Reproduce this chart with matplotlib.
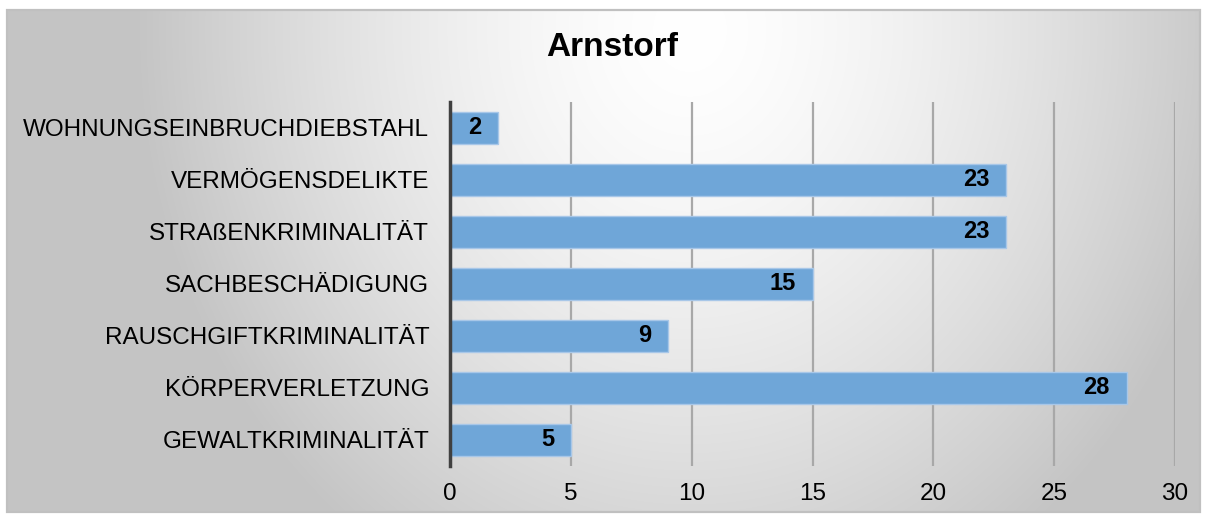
import matplotlib
matplotlib.use("Agg")
import matplotlib.pyplot as plt
import numpy as np
from matplotlib.patches import Rectangle

plt.rcParams["font.family"] = ["Liberation Sans", "DejaVu Sans"]

categories = [
    "GEWALTKRIMINALITÄT",
    "KÖRPERVERLETZUNG",
    "RAUSCHGIFTKRIMINALITÄT",
    "SACHBESCHÄDIGUNG",
    "STRAßENKRIMINALITÄT",
    "VERMÖGENSDELIKTE",
    "WOHNUNGSEINBRUCHDIEBSTAHL",
]
values = [5, 28, 9, 15, 23, 23, 2]
x_ticks = [0, 5, 10, 15, 20, 25, 30]
title = "Arnstorf"

W, H = 1206, 515
fig = plt.figure(figsize=(W / 100, H / 100), dpi=100)

# radial gradient background inside the chart frame (white at top centre)
bg = fig.add_axes([0, 0, 1, 1], zorder=-10)
bg.set_xlim(0, W)
bg.set_ylim(H, 0)
bg.axis("off")
yy, xx = np.mgrid[0:H, 0:W]
d = np.clip(np.sqrt(((xx - 690) / 560.0) ** 2 + ((yy - 20) / 650.0) ** 2), 0, 1)
shade = 1.0 - 0.23 * d ** 1.5
img = np.dstack([shade, shade, shade])
bg.imshow(img, extent=(7, 1200, 512, 10), aspect="auto", interpolation="bilinear")
bg.add_patch(Rectangle((7, 10), 1193, 502, fill=False, edgecolor="#c0c0c0", linewidth=1.6))

ax = fig.add_axes([450 / W, 1 - 466 / H, 725 / W, 364 / H])
ax.patch.set_alpha(0)
y = np.arange(len(categories))
bars = ax.barh(y, values, height=0.6, color="#6fa6d8", edgecolor="#a8c7e8",
               linewidth=1.0, zorder=3)
for rect, v in zip(bars, values):
    ax.annotate(str(v), (rect.get_width(), rect.get_y() + rect.get_height() / 2),
                xytext=(-12, 0), textcoords="offset points", ha="right", va="center",
                fontsize=17, fontweight="bold", color="black", zorder=4)

ax.set_xlim(0, 30)
ax.set_ylim(-0.5, len(categories) - 0.5)
ax.set_xticks(x_ticks)
ax.set_yticks(y)
ax.set_yticklabels(categories)
ax.tick_params(axis="x", length=0, pad=12, labelsize=17.5)
ax.tick_params(axis="y", length=0, pad=15, labelsize=17.5)
ax.grid(axis="x", color="#a8a8a8", linewidth=1.6, zorder=1)
ax.set_axisbelow(True)
for s in ["top", "right", "bottom"]:
    ax.spines[s].set_visible(False)
ax.spines["left"].set_color("#404040")
ax.spines["left"].set_linewidth(2.5)
ax.spines["left"].set_zorder(5)

fig.text(612 / W, 1 - 48 / H, title, ha="center", va="center",
         fontsize=24, fontweight="bold")

fig.savefig("out.png", dpi=100)
